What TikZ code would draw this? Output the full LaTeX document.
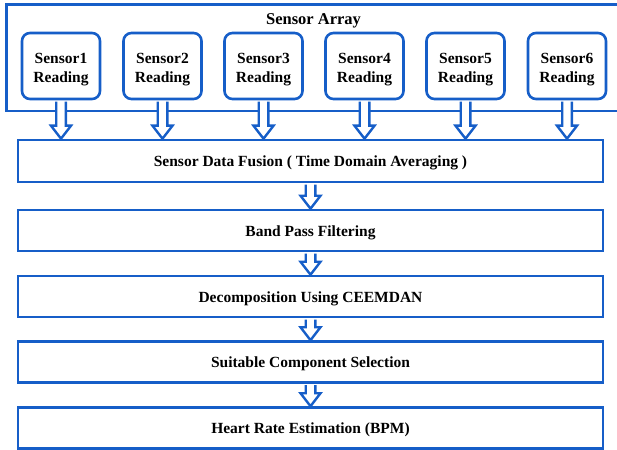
\documentclass[tikz,border=0pt]{standalone}
\usepackage{fontspec}
\setmainfont{Liberation Serif}
\usetikzlibrary{calc}
\definecolor{fblue}{RGB}{22,94,200}
\newcommand{\lowered}[2]{\raisebox{-#1}[\height][\depth]{#2}}
\newcommand{\sensortext}[1]{\lowered{3.5pt}{\begin{tabular}{@{}c@{}}Sensor#1\\Reading\end{tabular}}}
\tikzset{
  sensorbox/.style={draw=fblue, line width=2.6pt, rounded corners=8pt, fill=white,
    minimum width=78pt, minimum height=66pt, inner sep=0pt,
    font=\fontsize{15.5}{19}\selectfont\bfseries},
  stagebox/.style={draw=fblue, line width=2.6pt, fill=white,
    minimum width=585pt, minimum height=41pt, inner sep=0pt,
    font=\fontsize{15.5}{19}\selectfont\bfseries},
  frameline/.style={draw=fblue, line width=2.6pt},
  arrfill/.style={fill=white},
  arrline/.style={draw=fblue, line width=2.4pt, line join=miter},
}
\newcommand{\hollowarrow}[2]{%
  \fill[arrfill] let \p1=(#1.south), \p2=(#2.north) in
    (\x1-4.8pt,\y1-1.4pt) -- (\x1-4.8pt,\y2+13pt) -- (\x1-10pt,\y2+13pt) -- (\x1,\y2)
    -- (\x1+10pt,\y2+13pt) -- (\x1+4.8pt,\y2+13pt) -- (\x1+4.8pt,\y1-1.4pt) -- cycle;
  \draw[arrline] let \p1=(#1.south), \p2=(#2.north) in
    (\x1-4.8pt,\y1-1.3pt) -- (\x1-4.8pt,\y2+13pt) -- (\x1-10pt,\y2+13pt) -- (\x1,\y2)
    -- (\x1+10pt,\y2+13pt) -- (\x1+4.8pt,\y2+13pt) -- (\x1+4.8pt,\y1-1.3pt);}
\begin{document}
\begin{tikzpicture}[x=1pt,y=-1pt]
\useasboundingbox (0,0) rectangle (617,449);
% sensor array frame (open to the right)
\draw[frameline] (617,4.6) -- (6.6,4.6) -- (6.6,111) -- (617,111);
\node[font=\fontsize{16.5}{20}\selectfont\bfseries] (title) at (313.5,21) {Sensor Array};
% sensors
\node[sensorbox] (s1) at (61,66) {\sensortext{1}};
\node[sensorbox] (s2) at (162.5,66) {\sensortext{2}};
\node[sensorbox] (s3) at (263.5,66) {\sensortext{3}};
\node[sensorbox] (s4) at (364.5,66) {\sensortext{4}};
\node[sensorbox] (s5) at (465.5,66) {\sensortext{5}};
\node[sensorbox] (s6) at (567,66) {\sensortext{6}};
% stages
\node[stagebox, minimum height=42pt] (fus) at (310.5,161) {\lowered{2pt}{Sensor Data Fusion ( Time Domain Averaging )}};
\node[stagebox] (bpf) at (310.5,230.5) {\lowered{2pt}{Band Pass Filtering}};
\node[stagebox] (dec) at (310.5,296.5) {\lowered{2pt}{Decomposition Using CEEMDAN}};
\node[stagebox] (sel) at (310.5,362) {\lowered{2pt}{Suitable Component Selection}};
\node[stagebox] (hr) at (310.5,428) {\lowered{2pt}{Heart Rate Estimation (BPM)}};
% arrows
\foreach \s in {s1,s2,s3,s4,s5,s6}{\hollowarrow{\s}{fus}}
\hollowarrow{fus}{bpf}
\hollowarrow{bpf}{dec}
\hollowarrow{dec}{sel}
\hollowarrow{sel}{hr}
\end{tikzpicture}
\end{document}
